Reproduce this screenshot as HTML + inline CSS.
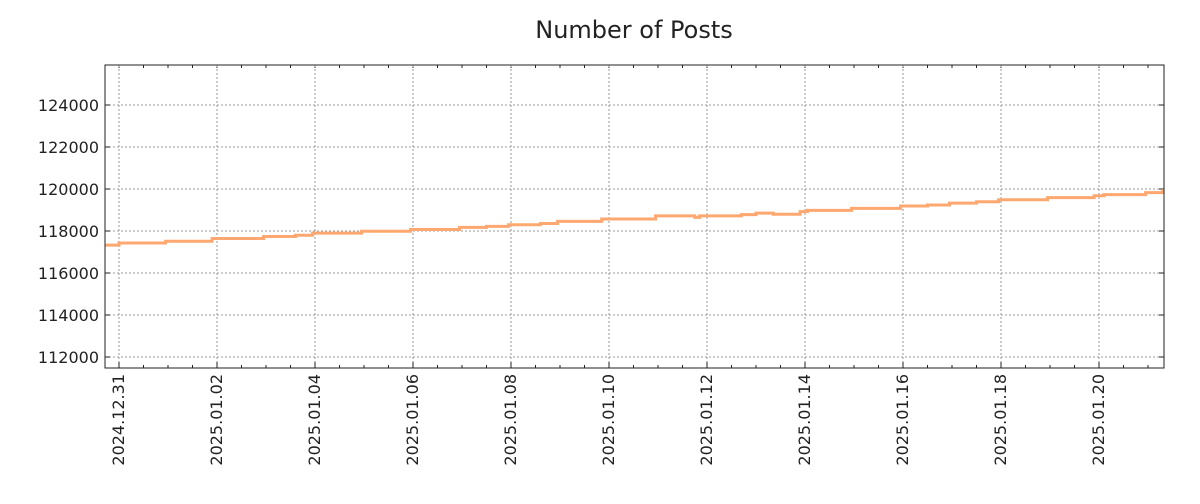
<!DOCTYPE html>
<html><head><meta charset="utf-8"><style>
body{margin:0;background:#fff;font-family:"DejaVu Sans","Liberation Sans",sans-serif}
</style></head><body>
<svg id="c" width="1200" height="500" xmlns="http://www.w3.org/2000/svg" font-family="DejaVu Sans, sans-serif">
<text x="634" y="38" text-anchor="middle" font-size="24" fill="#222">Number of Posts</text>
</svg>
<script>
const days=[-0.29,0.0,0.95,1.9,2.95,3.6,3.95,4.95,5.95,6.95,7.5,7.95,8.6,8.95,9.85,10.95,11.75,11.85,12.7,13.0,13.35,13.9,14.05,14.95,15.95,16.5,16.95,17.5,17.95,18.95,19.9,20.1,20.95,21.3];
const values=[117330,117430,117510,117640,117740,117800,117900,117990,118070,118170,118220,118300,118360,118460,118570,118720,118650,118720,118780,118850,118800,118920,118980,119080,119190,119240,119330,119390,119490,119590,119680,119730,119830,119920];
const yTicks=[112000,114000,116000,118000,120000,122000,124000];
const xTickDays=[0,2,4,6,8,10,12,14,16,18,20];
const xTickLabels=["2024.12.31","2025.01.02","2025.01.04","2025.01.06","2025.01.08","2025.01.10","2025.01.12","2025.01.14","2025.01.16","2025.01.18","2025.01.20"];
const L=105,R=1164,T=65,B=368;
const x=d=>119+d*49;
const y=v=>105+(124000-v)*42/2000;
const svg=document.getElementById('c');
const NS='http://www.w3.org/2000/svg';
function mk(t,a){const e=document.createElementNS(NS,t);for(const k in a)e.setAttribute(k,a[k]);svg.appendChild(e);return e;}
yTicks.forEach((v,i)=>{
 const g=mk('line',{x1:L,x2:R,y1:y(v),y2:y(v),stroke:'#999','stroke-dasharray':'2,2'});
 
 
 mk('line',{x1:L,x2:L+5,y1:y(v),y2:y(v),stroke:'#222'});
 mk('line',{x1:R-5,x2:R,y1:y(v),y2:y(v),stroke:'#222'});
 const t=mk('text',{x:L-6,y:y(v)+6,'text-anchor':'end','font-size':16,fill:'#222'});
 t.textContent=v;
 
 
});
for(let d=-0.5;d<=21.5;d+=0.5){const xx=x(d);if(xx<L||xx>R)continue;
 mk('line',{x1:xx,x2:xx,y1:B,y2:B-3,stroke:'#222'});mk('line',{x1:xx,x2:xx,y1:T,y2:T+3,stroke:'#222'});}
xTickDays.forEach((d,i)=>{
 const xx=x(d);
 const g=mk('line',{x1:xx,x2:xx,y1:T,y2:B,stroke:'#999','stroke-dasharray':'2,2'});
 
 
 mk('line',{x1:xx,x2:xx,y1:B,y2:B-6,stroke:'#222'});
 const t=mk('text',{x:0,y:0,'text-anchor':'end','font-size':16,fill:'#222',transform:`translate(${xx+5},${B+6}) rotate(-90)`});
 t.textContent=xTickLabels[i];
 
 
});
let d='';
days.forEach((dd,i)=>{const xx=Math.max(L,x(dd));if(i===0)d+=`M${xx},${y(values[i])}`;else d+=`H${xx}V${y(values[i])}`;});
d+=`H${R}`;
const p=mk('path',{d:d,fill:'none',stroke:'#fda870','stroke-width':3});


const f=mk('rect',{x:L,y:T,width:R-L,height:B-T,fill:'none',stroke:'#222'});


</script>
</body></html>
